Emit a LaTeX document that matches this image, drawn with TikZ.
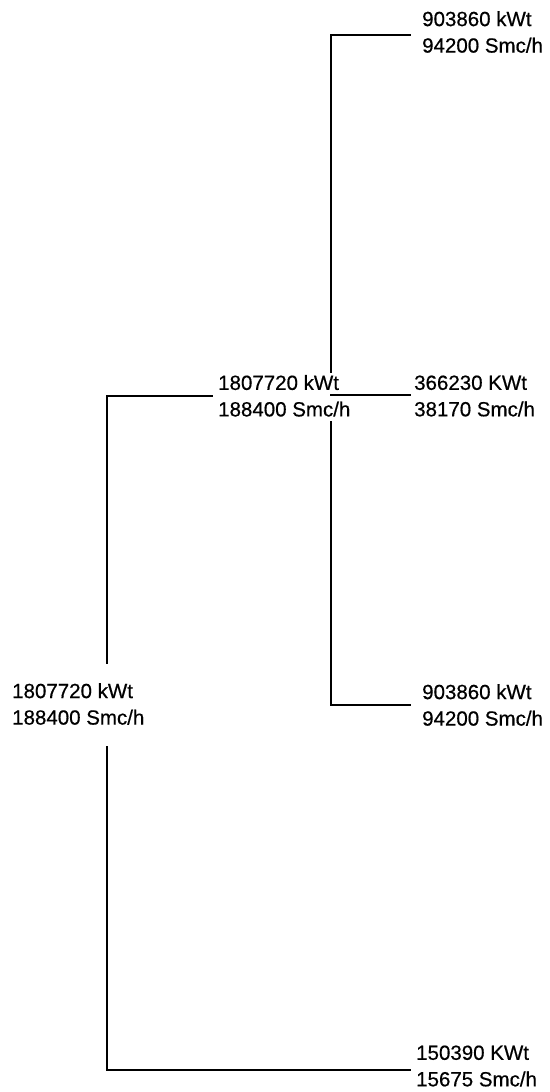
\documentclass[tikz,border=0pt]{standalone}
\usepackage{fontspec}
\setmainfont{Liberation Sans}
\newfontfamily\lblfont[FakeBold=0.5]{Liberation Sans}
\begin{document}
\begin{tikzpicture}[x=1pt,y=-1pt,
  lbl/.style={anchor=west,inner sep=0pt,align=left,font=\lblfont\fontsize{20.5}{26.5}\selectfont},
  wire/.style={line width=1.7pt,line cap=rect}]
\useasboundingbox (0,0) rectangle (549,1092);
% labels
\node[lbl] (T)  at (422,32) {903860 kWt\\94200 Smc/h};
\node[lbl] (C)  at (218,395.8) {1807720 kWt\\188400 Smc/h};
\node[lbl] (R)  at (414,396) {366230 KWt\\38170 Smc/h};
\node[lbl] (M)  at (422,705) {903860 kWt\\94200 Smc/h};
\node[lbl] (L)  at (12,704) {1807720 kWt\\188400 Smc/h};
\node[lbl] (B)  at (416,1066) {150390 KWt\\15675 Smc/h};
% junction coordinates
\coordinate (jt) at (331,35);
\coordinate (jm) at (331,395);
\coordinate (jb) at (331,705);
\coordinate (lt) at (107,396);
\coordinate (lb) at (107,1070);
\coordinate (ct) at (331,372);
\coordinate (cb) at (331,422);
\coordinate (ltop) at (107,663);
\coordinate (lbot) at (107,747);
% right tree
\draw[wire] (jt -| T.west) ++(-12,0) -- (jt) -- (ct);
\draw[wire] (cb) -- (jb) -- ++(79,0);
\draw[wire] (jm) -- ++(79,0);
% left tree
\draw[wire] (lt -| C.west) ++(-6,0) -- (lt) -- (ltop);
\draw[wire] (lbot) -- (lb) -- ++(303,0);
\end{tikzpicture}
\end{document}
